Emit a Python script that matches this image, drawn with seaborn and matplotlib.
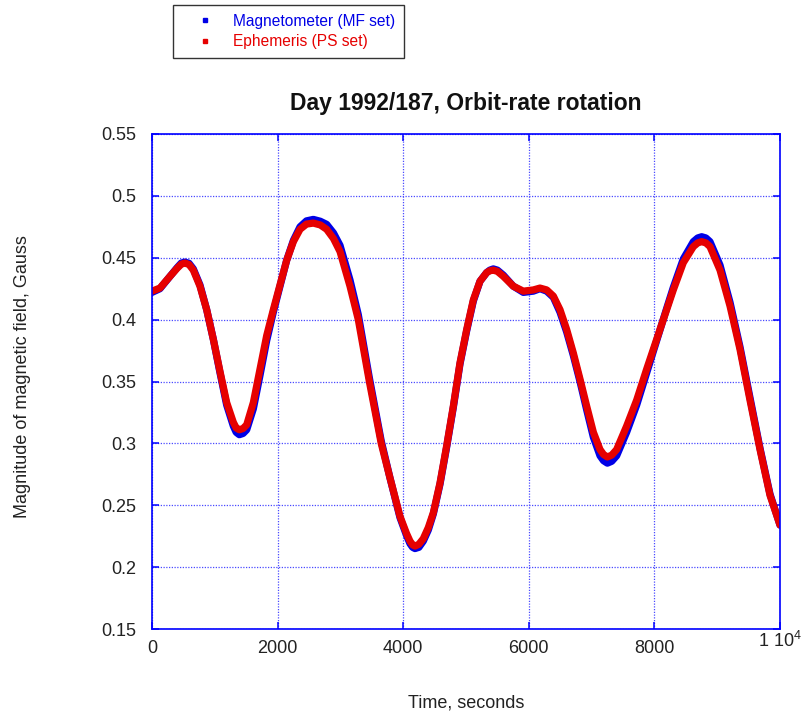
import matplotlib
matplotlib.use("Agg")
import matplotlib.pyplot as plt
import matplotlib.transforms as mtransforms
import seaborn as sns
import pandas as pd
from matplotlib.lines import Line2D

# ---------------- data ----------------
time_s = [0, 127, 287, 400, 466, 525, 590, 658, 764, 871,
          977, 1083, 1189, 1295, 1340, 1390, 1450, 1508, 1614, 1720,
          1826, 1932, 2038, 2145, 2251, 2357, 2460, 2569, 2680, 2781,
          2890, 2994, 3153, 3285, 3461, 3650, 3790, 3949, 4050, 4108,
          4150, 4188, 4250, 4320, 4400, 4480, 4586, 4692, 4798, 4904,
          5011, 5117, 5223, 5329, 5380, 5435, 5500, 5594, 5754, 5913,
          6072, 6178, 6285, 6391, 6497, 6603, 6709, 6815, 6922, 7028,
          7134, 7190, 7251, 7320, 7399, 7558, 7718, 7877, 8036, 8195,
          8301, 8460, 8620, 8690, 8753, 8820, 8885, 9045, 9204, 9363,
          9522, 9682, 9841, 10000]

ephemeris = [0.423, 0.4255, 0.435, 0.4415, 0.4448, 0.4457, 0.4445, 0.440, 0.427, 0.408,
             0.384, 0.358, 0.333, 0.317, 0.3125, 0.311, 0.312, 0.315, 0.333, 0.360,
             0.387, 0.408, 0.428, 0.448, 0.463, 0.473, 0.4772, 0.478, 0.4765, 0.473,
             0.4655, 0.455, 0.427, 0.400, 0.350, 0.300, 0.272, 0.241, 0.2275, 0.221,
             0.218, 0.217, 0.2185, 0.223, 0.232, 0.244, 0.268, 0.298, 0.330, 0.365,
             0.392, 0.416, 0.431, 0.438, 0.4395, 0.440, 0.439, 0.435, 0.427, 0.423,
             0.424, 0.4255, 0.424, 0.419, 0.408, 0.392, 0.373, 0.352, 0.330, 0.309,
             0.295, 0.291, 0.289, 0.2905, 0.295, 0.314, 0.335, 0.360, 0.384, 0.408,
             0.424, 0.446, 0.459, 0.462, 0.463, 0.462, 0.459, 0.440, 0.411, 0.376,
             0.335, 0.295, 0.258, 0.234]

magnetometer = [0.422, 0.425, 0.435, 0.442, 0.4457, 0.4465, 0.4455, 0.441, 0.428, 0.408,
                0.384, 0.357, 0.331, 0.314, 0.309, 0.307, 0.308, 0.311, 0.328, 0.355,
                0.383, 0.406, 0.427, 0.448, 0.464, 0.475, 0.4798, 0.481, 0.4795, 0.477,
                0.470, 0.460, 0.432, 0.404, 0.353, 0.302, 0.272, 0.240, 0.226, 0.219,
                0.216, 0.215, 0.216, 0.221, 0.230, 0.243, 0.267, 0.297, 0.329, 0.364,
                0.391, 0.415, 0.431, 0.438, 0.440, 0.441, 0.440, 0.436, 0.427, 0.422,
                0.423, 0.425, 0.423, 0.418, 0.406, 0.390, 0.371, 0.350, 0.327, 0.305,
                0.290, 0.286, 0.284, 0.2855, 0.290, 0.309, 0.331, 0.357, 0.383, 0.409,
                0.426, 0.449, 0.463, 0.466, 0.467, 0.466, 0.463, 0.444, 0.414, 0.378,
                0.337, 0.296, 0.259, 0.234]

series_names = ["Magnetometer (MF set)", "Ephemeris (PS set)"]
x_ticks = [0, 2000, 4000, 6000, 8000, 10000]
x_tick_labels = ["0", "2000", "4000", "6000", "8000", r"1 10$^{\mathdefault{4}}$"]
y_ticks = [0.15, 0.2, 0.25, 0.3, 0.35, 0.4, 0.45, 0.5, 0.55]
y_tick_labels = ["0.15", "0.2", "0.25", "0.3", "0.35", "0.4", "0.45", "0.5", "0.55"]

title = "Day 1992/187, Orbit-rate rotation"
x_label = "Time, seconds"
y_label = "Magnitude of magnetic field, Gauss"

# ---------------- style ----------------
sns.set_theme(style="white")
plt.rcParams["font.family"] = ["Liberation Sans", "DejaVu Sans"]
plt.rcParams["mathtext.fontset"] = "custom"
plt.rcParams["mathtext.rm"] = "Liberation Sans"
plt.rcParams["mathtext.it"] = "Liberation Sans:italic"

BLUE = "#0000e6"
RED = "#e60000"
AXIS_BLUE = "#0000ff"
GRID_BLUE = "#4a4aff"

df = pd.DataFrame({
    "time": time_s + time_s,
    "field": magnetometer + ephemeris,
    "series": [series_names[0]] * len(time_s) + [series_names[1]] * len(time_s),
})

fig = plt.figure(figsize=(8.02, 7.13), dpi=100)
ax = fig.add_axes([152 / 802, (713 - 629) / 713, 628 / 802, 495 / 713])

sns.lineplot(data=df, x="time", y="field", hue="series",
             hue_order=series_names,
             palette={series_names[0]: BLUE, series_names[1]: RED},
             linewidth=5.2, estimator=None, sort=False, legend=False, ax=ax,
             solid_joinstyle="round", solid_capstyle="round")

ax.set_xlim(0, 10000)
ax.set_ylim(0.15, 0.55)
ax.set_xticks(x_ticks)
ax.set_xticklabels(x_tick_labels)
ax.set_yticks(y_ticks)
ax.set_yticklabels(y_tick_labels)

ax.grid(True, color=GRID_BLUE, linestyle=(0, (1, 1.2)), linewidth=0.9)
ax.set_axisbelow(True)
for sp in ax.spines.values():
    sp.set_color(AXIS_BLUE)
    sp.set_linewidth(1.2)
    sp.set_visible(True)

ax.tick_params(axis="both", which="major", direction="in", length=5,
               width=1.1, color=AXIS_BLUE, top=True, right=True,
               bottom=True, left=True, labelsize=13, labelcolor="#222222")
ax.tick_params(axis="y", pad=11)
ax.tick_params(axis="x", pad=8)

# lift the "1 10^4" label so its base sits like the reference
last = ax.get_xticklabels()[-1]
last.set_transform(last.get_transform() +
                   mtransforms.ScaledTranslation(0, 6.5 / 72, fig.dpi_scale_trans))

ax.set_title(title, fontsize=16.5, fontweight="bold", pad=17, color="#111111")
ax.set_xlabel(x_label, fontsize=13, color="#222222")
ax.set_ylabel(y_label, fontsize=13, color="#222222")
ax.xaxis.set_label_coords(0.5, (629 - 695) / 495)
ax.yaxis.set_label_coords((31 - 152) / 628, 0.51)

handles = [Line2D([], [], linestyle="none", marker="s", markersize=3.2,
                  color=BLUE),
           Line2D([], [], linestyle="none", marker="s", markersize=3.2,
                  color=RED)]
leg = fig.legend(handles, series_names, loc="upper left",
                 bbox_to_anchor=(173 / 802, 1 - 5 / 713),
                 bbox_transform=fig.transFigure,
                 frameon=True, fancybox=False, edgecolor="black",
                 fontsize=11.2, borderpad=0.55, handlelength=3.0,
                 handletextpad=0.3, labelspacing=0.35, borderaxespad=0)
leg.get_frame().set_linewidth(1.0)
for txt, col in zip(leg.get_texts(), [BLUE, RED]):
    txt.set_color(col)

fig.savefig("out.png", dpi=100, facecolor="white")
